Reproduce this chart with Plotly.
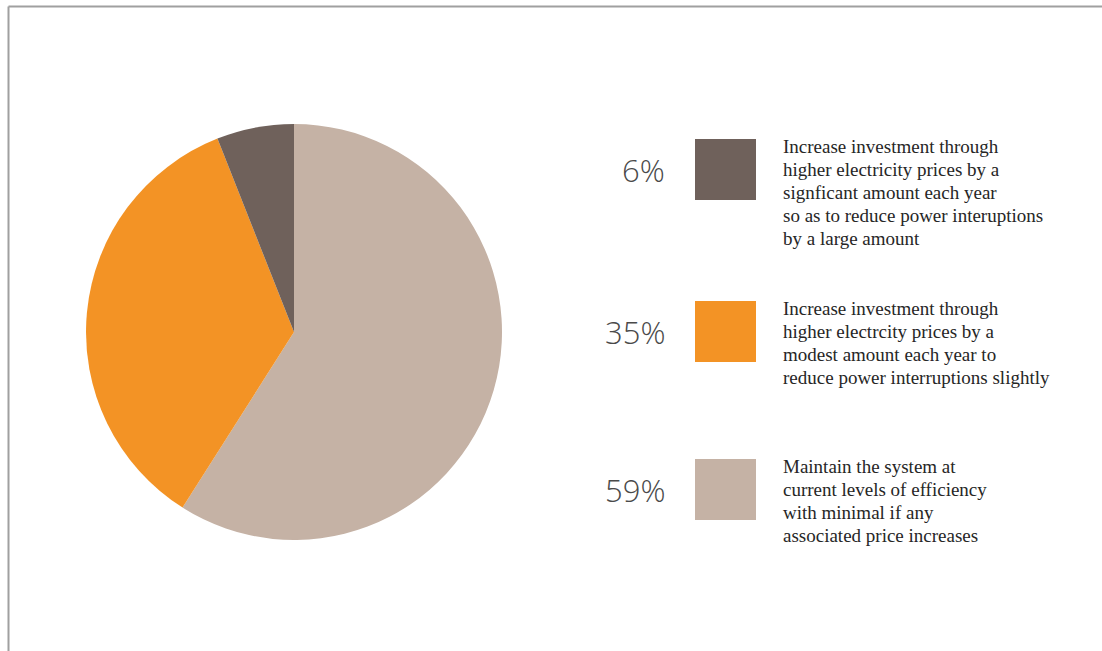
import plotly.graph_objects as go

# data
categories = [
    "Maintain the system at<br>current levels of efficiency<br>with minimal if any<br>associated price increases",
    "Increase investment through<br>higher electrcity prices by a<br>modest amount each year to<br>reduce power interruptions slightly",
    "Increase investment through<br>higher electricity prices by a<br>signficant amount each year<br>so as to reduce power interuptions<br>by a large amount",
]
values = [59, 35, 6]
colors = ["#c5b2a5", "#f39325", "#6f615b"]

W, H = 1102, 651

def px_x(x):
    return x / W

def px_y(y):
    return 1 - y / H

fig = go.Figure()

fig.add_trace(go.Pie(
    labels=categories,
    values=values,
    marker=dict(colors=colors, line=dict(width=0)),
    sort=False,
    direction="clockwise",
    rotation=0,
    textinfo="none",
    hoverinfo="label+percent",
    showlegend=False,
    domain=dict(x=[px_x(86), px_x(502)], y=[px_y(540), px_y(124)]),
))

# legend rows, top to bottom: 6%, 35%, 59%
row_tops = [139, 301, 459]
order = [2, 1, 0]
shapes = []
annotations = []
for top, i in zip(row_tops, order):
    shapes.append(dict(
        type="rect", xref="paper", yref="paper",
        x0=px_x(695), x1=px_x(756), y0=px_y(top + 61), y1=px_y(top),
        fillcolor=colors[i], line=dict(width=0),
    ))
    annotations.append(dict(
        text=f"{values[i]}%", xref="paper", yref="paper",
        x=px_x(667), y=px_y(top + 31), xanchor="right", yanchor="middle",
        showarrow=False,
        font=dict(family="Open Sans", size=31, color="#4a4a4a", weight=300),
    ))
    # one annotation per line so the line spacing matches
    for k, line in enumerate(categories[i].split("<br>")):
        annotations.append(dict(
            text=line, xref="paper", yref="paper",
            x=px_x(781), y=px_y(top + 7.5 + 23 * k), xanchor="left", yanchor="middle",
            align="left", showarrow=False,
            font=dict(family="Liberation Serif", size=19, color="#262626"),
        ))

# frame lines at top and left
shapes.append(dict(type="line", xref="paper", yref="paper",
                   x0=px_x(8.5), x1=1, y0=px_y(6.5), y1=px_y(6.5),
                   line=dict(color="#a0a0a0", width=2)))
shapes.append(dict(type="line", xref="paper", yref="paper",
                   x0=px_x(8.5), x1=px_x(8.5), y0=0, y1=px_y(6.5),
                   line=dict(color="#a0a0a0", width=2)))

fig.update_layout(
    width=W, height=H,
    margin=dict(l=0, r=0, t=0, b=0),
    paper_bgcolor="white",
    plot_bgcolor="white",
    shapes=shapes,
    annotations=annotations,
)

fig.write_html("out.html", config={"displayModeBar": False},
               post_script="document.body.style.margin='0';")
